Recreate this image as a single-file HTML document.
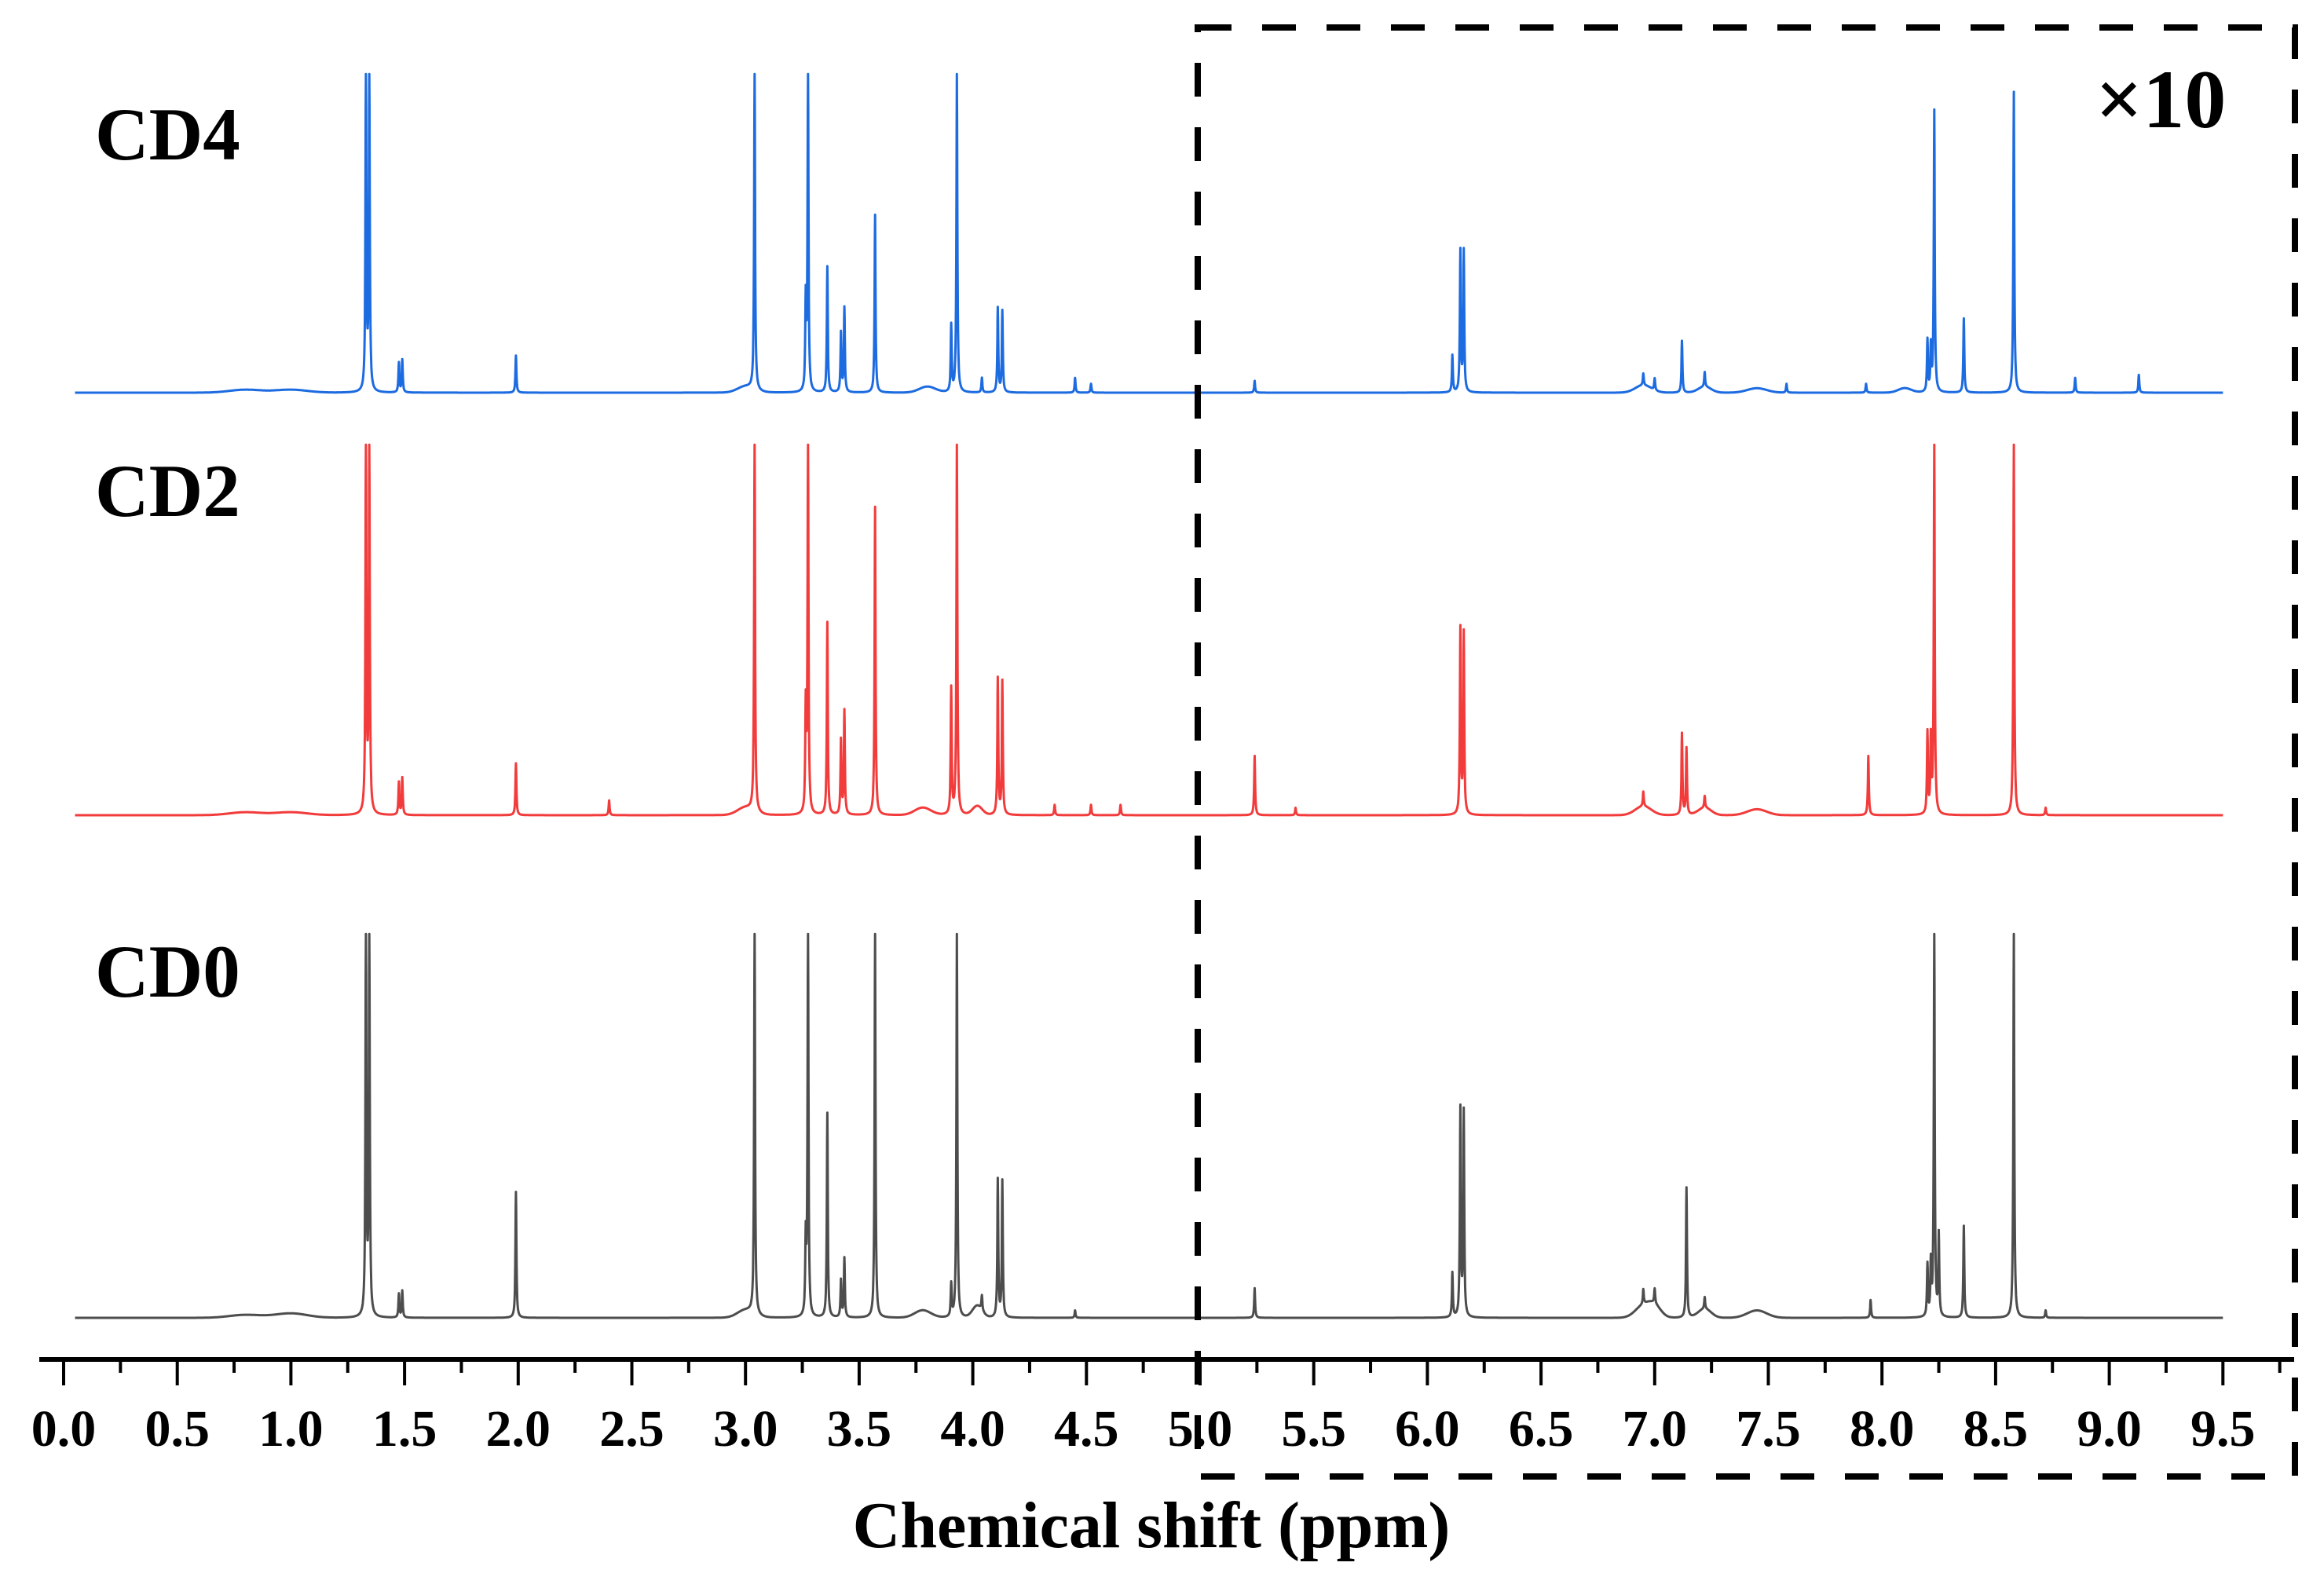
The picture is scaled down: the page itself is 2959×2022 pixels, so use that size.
<!DOCTYPE html>
<html><head><meta charset="utf-8">
<style>
html,body{margin:0;padding:0;background:#fff;}
svg{display:block;}
text{font-family:"Liberation Serif",serif;font-weight:bold;fill:#000;}
</style></head>
<body>
<svg id="chart" width="2959" height="2022" viewBox="0 0 2959 2022" xmlns="http://www.w3.org/2000/svg">
  <g id="spectra"></g>
  <g id="axis"></g>
  <rect x="1525" y="35" width="1397" height="1845" fill="none" stroke="#000" stroke-width="8" stroke-dasharray="43 39"/>
  <text x="2668" y="162" font-size="106">×10</text>
  <text x="121" y="203" font-size="95">CD4</text>
  <text x="121" y="657" font-size="95">CD2</text>
  <text x="121" y="1269" font-size="95">CD0</text>
  <text x="1466" y="1970" font-size="84" text-anchor="middle">Chemical shift (ppm)</text>
</svg>
<script>
// ---- data ----
const tickValues = [0,0.5,1,1.5,2,2.5,3,3.5,4,4.5,5,5.5,6,6.5,7,7.5,8,8.5,9,9.5];
const tickLabels = ["0.0","0.5","1.0","1.5","2.0","2.5","3.0","3.5","4.0","4.5","5.0","5.5","6.0","6.5","7.0","7.5","8.0","8.5","9.0","9.5"];
const seriesNames = ["CD4","CD2","CD0"];
// peaks: [ppm, height] (heights in relative units)
const cd4Peaks = [[1.33,215],[1.345,215],[1.475,20],[1.49,22],[1.99,25],[3.04,215],[3.265,60],[3.275,215],[3.36,85],[3.42,40],[3.435,57],[3.57,120],[3.905,45],[3.93,215],[4.11,57],[4.13,55],[4.04,10],[4.45,10],[4.52,6],[5.24,8],[6.11,25],[6.145,95],[6.16,95],[6.95,8],[7.0,8],[7.12,35],[7.22,10],[7.58,6],[7.93,6],[8.20,35],[8.215,30],[8.23,190],[8.36,50],[8.58,203],[8.85,10],[9.13,12]];
const cd2Peaks = [[1.33,250],[1.345,250],[1.475,22],[1.49,25],[1.99,35],[2.40,10],[3.04,250],[3.265,70],[3.275,250],[3.36,130],[3.42,50],[3.435,70],[3.57,208],[3.905,85],[3.93,250],[4.11,92],[4.13,90],[4.36,7],[4.52,7],[4.65,7],[5.24,40],[5.42,5],[6.145,125],[6.16,122],[6.95,10],[7.12,55],[7.14,45],[7.22,8],[7.94,40],[8.20,55],[8.215,50],[8.23,250],[8.58,250],[8.72,5]];
const cd0Peaks = [[1.33,259],[1.345,259],[1.475,16],[1.49,18],[1.99,85],[3.04,259],[3.265,50],[3.275,259],[3.36,138],[3.42,25],[3.435,40],[3.57,259],[3.905,22],[3.93,259],[4.11,93],[4.13,92],[4.04,10],[4.45,5],[5.24,20],[6.11,30],[6.145,140],[6.16,138],[6.95,10],[7.0,10],[7.14,88],[7.22,8],[7.95,12],[8.20,35],[8.215,35],[8.23,259],[8.25,55],[8.36,62],[8.58,259],[8.72,5]];
// broad baseline humps: [ppm, height, width]
const cd4Humps = [[0.8,2,0.1],[1.0,2,0.1],[3.0,4,0.05],[3.8,4,0.05],[6.95,5,0.05],[7.22,4,0.04],[7.45,3,0.06],[8.1,3,0.04]];
const cd2Humps = [[0.8,2,0.1],[1.0,2,0.1],[3.0,5,0.05],[3.78,5,0.05],[4.02,6,0.03],[6.95,6,0.05],[7.22,5,0.04],[7.45,4,0.06]];
const cd0Humps = [[0.8,2,0.1],[1.0,3,0.1],[3.0,5,0.05],[3.78,5,0.05],[4.02,8,0.03],[6.95,8,0.05],[7.0,7,0.04],[7.22,6,0.04],[7.45,5,0.06]];
const clipMax = [215,250,259];

// ---- layout ----
const X0 = 81, PPM_PX = 289.4;
const baselines = [500, 1038, 1678];
const colors = ["#1c6be0","#f23b3b","#4d4d4d"];
const YS = 1.887;
const xs = p => X0 + p*PPM_PX;
const ys = (v,i) => baselines[i] - v*YS;
const NS = "http://www.w3.org/2000/svg";

function intensity(p, peaks, humps, maxv){
  let v = 0;
  for (const [c,h] of peaks){ const d=(p-c)/0.0025; v += h/(1+d*d); }
  for (const [c,h,w] of humps){ const d=(p-c)/w; v += h*Math.exp(-d*d); }
  return Math.min(v, maxv);
}
const allPeaks=[cd4Peaks,cd2Peaks,cd0Peaks], allHumps=[cd4Humps,cd2Humps,cd0Humps];
const sg=document.getElementById('spectra');
for (let i=0;i<3;i++){
  let d="";
  for (let k=50;k<=9500;k++){
    const p=k/1000;
    const v=intensity(p,allPeaks[i],allHumps[i],clipMax[i]);
    d+=(k===50?"M":"L")+xs(p).toFixed(1)+" "+ys(v,i).toFixed(1);
  }
  const path=document.createElementNS(NS,'path');
  path.setAttribute('d',d);
  path.setAttribute('fill','none');
  path.setAttribute('stroke',colors[i]);
  path.setAttribute('stroke-width','3');
  path.setAttribute('stroke-linejoin','round');
  
  
  sg.appendChild(path);
}
// axis
const ag=document.getElementById('axis');
const line=document.createElementNS(NS,'line');
line.setAttribute('x1',50);line.setAttribute('x2',2921);
line.setAttribute('y1',1731);line.setAttribute('y2',1731);
line.setAttribute('stroke','#000');line.setAttribute('stroke-width','6');


ag.appendChild(line);
for (let t=0;t<=39;t++){
  const p=t*0.25, major=t%2===0;
  const tk=document.createElementNS(NS,'line');
  tk.setAttribute('x1',xs(p));tk.setAttribute('x2',xs(p));
  tk.setAttribute('y1',1731);tk.setAttribute('y2',major?1764:1748);
  tk.setAttribute('stroke','#000');tk.setAttribute('stroke-width','4');
  
  
  ag.appendChild(tk);
}
tickValues.forEach((v,i)=>{
  const tx=document.createElementNS(NS,'text');
  tx.setAttribute('x',xs(v));tx.setAttribute('y',1841);
  tx.setAttribute('font-size','66');tx.setAttribute('text-anchor','middle');
  tx.textContent=tickLabels[i];
  
  
  ag.appendChild(tx);
});
</script>
</body></html>
